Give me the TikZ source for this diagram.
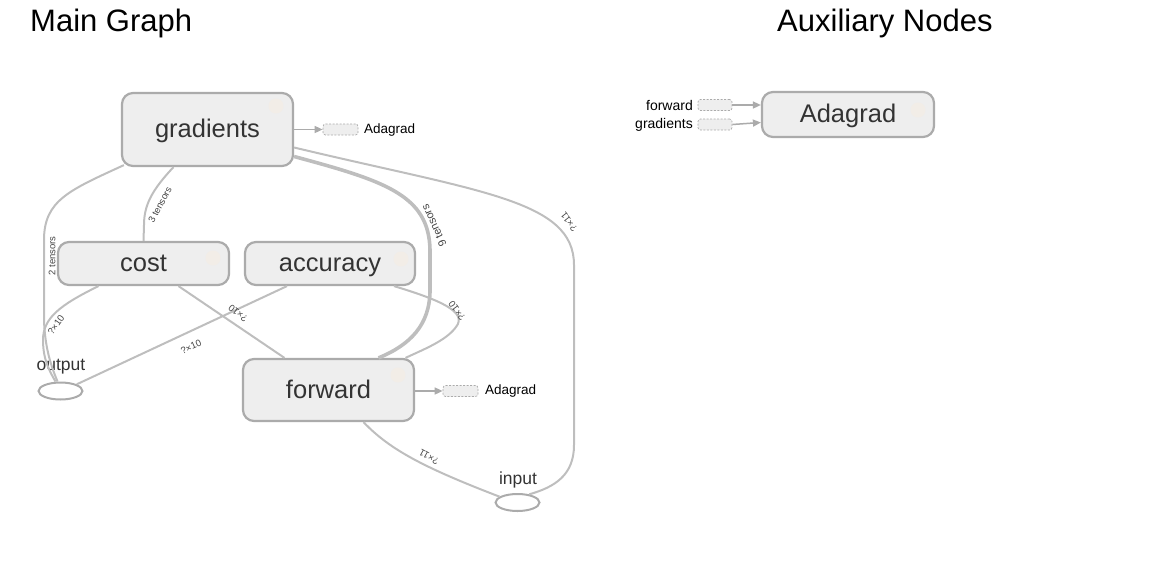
\documentclass[tikz,border=0pt]{standalone}
\usepackage{fontspec}
\setmainfont{Liberation Sans}
\usetikzlibrary{arrows.meta,shapes.geometric,calc}
\definecolor{boxfill}{HTML}{EEEEEE}
\definecolor{boxline}{HTML}{ABABAB}
\definecolor{edgec}{HTML}{BEBEBE}
\definecolor{txt}{HTML}{333333}
\definecolor{lbl}{HTML}{444444}
\definecolor{faint}{HTML}{F2EDE7}
\begin{document}
\begin{tikzpicture}[x=1pt,y=-1pt,
  bigbox/.style={draw=boxline, fill=boxfill, line width=2.2pt, rounded corners=11pt, inner sep=0pt, text=txt, font=\fontsize{25.5}{30}\selectfont, text height=19pt, text depth=2.3pt},
  ph/.style={draw=boxline, fill=boxfill, dash pattern=on 2pt off 1.5pt, line width=0.7pt, rounded corners=2.5pt, minimum width=35pt, minimum height=11pt, inner sep=0pt},
  io/.style={ellipse, draw=boxline, line width=2pt, minimum width=44pt, minimum height=17pt, inner sep=0pt},
  iolbl/.style={font=\fontsize{17.5}{20}\selectfont, text=txt, inner sep=0pt},
  conn/.style={draw=edgec, line width=2pt},
  thickconn/.style={draw=edgec, line width=3.6pt},
  elbl/.style={font=\fontsize{9.5}{10}\selectfont, text=lbl, inner sep=0pt},
  smalllbl/.style={font=\fontsize{13.5}{15}\selectfont, text=black, inner sep=0pt},
  title/.style={font=\fontsize{31}{36}\selectfont, inner sep=0pt, anchor=base west},
  arr/.style={draw=boxline, line width=1.5pt, -{Triangle[length=8pt,width=7pt]}},
  dot/.style={circle, fill=faint, minimum size=15pt, inner sep=0pt},
]
\useasboundingbox (0,0) rectangle (1161,560);

% titles
\node[title] (t1) at (30,31) {Main Graph};
\node[title] (t2) at (777,31) {Auxiliary Nodes};

% main nodes
\node[bigbox, minimum width=171pt, minimum height=73pt] (grad) at (207.5,129.5) {gradients};
\node[bigbox, minimum width=171pt, minimum height=43pt] (cost) at (143.5,263.5) {cost};
\node[bigbox, minimum width=170pt, minimum height=43pt] (acc) at (330,263.5) {accuracy};
\node[bigbox, minimum width=171pt, minimum height=62pt] (fwd) at (328.5,390) {forward};
\node[dot] (d1) at (276,106) {};
\node[dot] (d2) at (213,258) {};
\node[dot] (d3) at (401,259) {};
\node[dot] (d4) at (398,375) {};

\node[io] (out) at (60.5,391) {};
\node[iolbl] (outl) at (61,367) {output};
\node[io] (inp) at (517.5,502.5) {};
\node[iolbl] (inpl) at (518,480) {input};

% placeholders
\node[ph] (ga) at (340.5,129.5) {};
\node[smalllbl, anchor=west] (gal) at (364,130) {Adagrad};
\node[ph] (fa) at (460.5,391) {};
\node[smalllbl, anchor=west] (fal) at (485,391) {Adagrad};
\draw[arr] (grad.east) -- (ga.west);
\draw[arr] (fwd.east |- fa.west) -- (fa.west);

% edges
\draw[conn] ([shift={(3,-2)}]grad.south west) .. controls (70,190) and (44,200) .. (44,240) -- (44,320) .. controls (45,350) and (52,368) .. ([shift={(-3,0)}]out.north);
\draw[conn] ([shift={(-45,0)}]cost.south) .. controls (60,305) and (43,318) .. (43,340) .. controls (43,360) and (50,372) .. ([shift={(-5,0)}]out.north);
\draw[conn] ([shift={(-34,0)}]grad.south) .. controls (152,190) and (144,205) .. (144,225) -- (cost.north);
\draw[thickconn] ([shift={(0,27)}]grad.east) .. controls (385,181) and (429,195) .. (430,250) -- (430,290) .. controls (430,325) and (410,345) .. ([shift={(50,0)}]fwd.north);
\draw[conn] ([shift={(0,18)}]grad.east) .. controls (480,192) and (574,200) .. (574,265) -- (574,445) .. controls (574,475) and (555,487) .. (inp.35);
\draw[conn] ([shift={(-43,0)}]acc.south) -- (out.north east);
\draw[conn] ([shift={(35,0)}]cost.south) -- ([shift={(-44,0)}]fwd.north);
\draw[conn] ([shift={(64,0)}]acc.south) .. controls (440,300) and (468,312) .. (456,327) .. controls (446,341) and (422,350) .. ([shift={(77,0)}]fwd.north);
\draw[conn] ([shift={(35,0)}]fwd.south) .. controls (390,450) and (425,468) .. (inp.162);

% edge labels
\node[elbl, rotate=90] (l1) at (52,256) {2 tensors};
\node[elbl, rotate=62] (l2) at (160,205) {3 tensors};
\node[elbl, rotate=115, font=\fontsize{11}{12}\selectfont] (l3) at (434,226) {9 tensors};
\node[elbl, rotate=128] (l4) at (569,222) {?×11};
\node[elbl, rotate=126] (l5) at (457,311) {?×10};
\node[elbl, rotate=142] (l6) at (238,313) {?×10};
\node[elbl, rotate=24] (l7) at (191,347) {?×10};
\node[elbl, rotate=55] (l8) at (56,325) {?×10};
\node[elbl, rotate=151] (l9) at (429,457) {?×11};

% auxiliary
\node[bigbox, minimum width=172pt, minimum height=45pt] (aux) at (848,114.5) {Adagrad};
\node[dot] (d5) at (918,110) {};
\node[ph, minimum width=34pt] (af) at (715,105) {};
\node[ph, minimum width=34pt] (ag) at (715,124.5) {};
\node[smalllbl, anchor=east, font=\fontsize{14}{16}\selectfont] (afl) at (693,105) {forward};
\node[smalllbl, anchor=east, font=\fontsize{14}{16}\selectfont] (agl) at (693,124.5) {gradients};
\draw[arr] (af.east) -- ([shift={(0,-9.5)}]aux.west);
\draw[arr] (ag.east) -- ([shift={(0,8)}]aux.west);
\end{tikzpicture}
\end{document}
